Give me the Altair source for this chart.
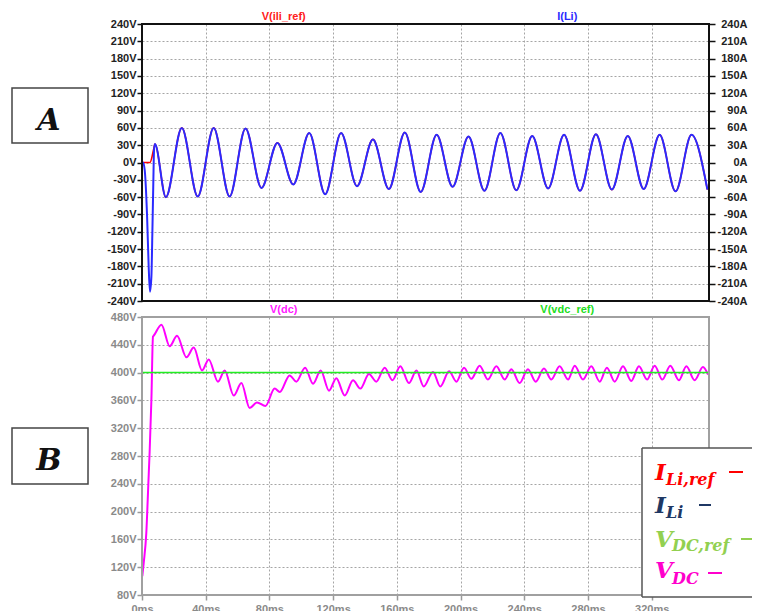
import altair as alt
import pandas as pd

# ---------------- data ----------------
# Panel A : I(Li) [blue] and V(ili_ref) [red], time in ms
ili_t = [0, 0.65, 1.7, 3.2, 4.2, 5.0, 5.9, 6.5, 7.1, 7.55, 8.1,
         15, 25, 35, 45, 55, 65, 75, 85, 95, 105, 115, 125, 135, 145, 155,
         165, 175, 185, 195, 205, 215, 225, 235, 245, 255, 265, 275, 285,
         295, 305, 315, 325, 335, 345, 355]
ili_v = [0, 0, -13, -94, -181, -224, -198, -123, -36, 21, 32,
         -60, 60, -59, 60, -59, 59, -44, 34, -38, 51, -55, 51, -41, 40, -46,
         52, -51, 48, -42, 45, -49, 51, -48, 46, -45, 48, -49, 49,
         -47, 46, -46, 48, -50, 48, -47]

ref_start_t = [0, 5.0, 7.4]
ref_start_v = [0, 0, 24]
ref_t = ref_start_t + ili_t[10:]
ref_v = ref_start_v + ili_v[10:]

# Panel B : V(dc) [magenta] and V(vdc_ref) [green]
vdc_t = [0.2, 1.07, 2.7, 4.0, 4.8, 5.9, 6.9, 7.3, 12.2, 17.4, 22.0, 27.9,
         32.5, 37.7, 41.9, 47.7, 51.9, 57.6, 62.4, 67.6, 72.2, 77.5, 83.3,
         86.5, 92.7, 96.9, 102.4, 107.4, 112.2, 117.4, 122.0, 127.3, 132.5,
         137.1, 142.5, 147.1, 152.4, 157.2, 162.2, 167.6, 172.3, 176.9,
         182.7, 187.3, 192.8, 197.4, 202.2, 206.8, 212.0, 217.2, 222.5,
         227.7, 231.9, 237.1, 242.3, 247.2, 252.4, 257.0, 262.2, 267.5,
         271.7, 276.9, 282.1, 287.4, 291.9, 296.8, 302.0, 307.2, 312.0,
         317.1, 321.9, 326.7, 331.7, 337.1, 341.8, 347.0, 352.2, 355.4]
vdc_v = [107, 126, 169, 241, 286, 361, 452, 453, 469, 438, 453, 422,
         436, 403, 419, 387, 403, 367, 385, 349, 357, 352, 377,
         372, 396, 387, 407, 384, 403, 374, 392, 367, 389,
         377, 398, 387, 407, 389, 409, 385, 403, 380,
         401, 380, 402, 387, 407, 391, 410, 390, 409,
         390, 405, 385, 405, 387, 406, 390, 409, 390,
         410, 390, 409, 387, 407, 387, 409, 388, 409,
         390, 410, 390, 410, 389, 409, 389, 408, 397]

vref_t = [0, 356]
vref_v = [400, 400]

x_ticks = [0, 40, 80, 120, 160, 200, 240, 280, 320]
yA_ticks = [-240, -210, -180, -150, -120, -90, -60, -30, 0,
            30, 60, 90, 120, 150, 180, 210, 240]
yB_ticks = [80, 120, 160, 200, 240, 280, 320, 360, 400, 440, 480]

# ---------------- layout / style ----------------
W = 567
HA = 277
HB = 278
X_MAX = 356
FONT = "Liberation Sans"
SERIF = "DejaVu Serif"

df_ili = pd.DataFrame({"t": ili_t, "v": ili_v})
df_ref = pd.DataFrame({"t": ref_t, "v": ref_v})
df_vdc = pd.DataFrame({"t": vdc_t, "v": vdc_v})
df_vref = pd.DataFrame({"t": vref_t, "v": vref_v})
dummy = pd.DataFrame({"k": [0]})

grid_kw = dict(grid=True, gridColor="#a5a5a5", gridDash=[2, 2], gridWidth=1)
xscale = alt.Scale(domain=[0, X_MAX], nice=False, zero=False)


def label_kw(color):
    return dict(labelColor=color, labelFont=FONT, labelFontSize=11,
                labelFontWeight="bold", labelOverlap=False, labelFlush=False)


def deco_text(txt, x, y, size, color, font=FONT, weight="bold", style="normal",
              align="center", baseline="middle"):
    return alt.Chart(dummy).mark_text(
        text=txt, fontSize=size, color=color, font=font, fontWeight=weight,
        fontStyle=style, align=align, baseline=baseline
    ).encode(x=alt.value(x), y=alt.value(y))


def deco_box(x0, x1, y0, y1, color, width):
    return alt.Chart(dummy).mark_rect(
        fillOpacity=0, stroke=color, strokeWidth=width
    ).encode(x=alt.value(x0), x2=alt.value(x1), y=alt.value(y0), y2=alt.value(y1))


def deco_rule(x0, x1, y0, y1, color, width):
    return alt.Chart(dummy).mark_rule(color=color, strokeWidth=width).encode(
        x=alt.value(x0), x2=alt.value(x1), y=alt.value(y0), y2=alt.value(y1))


# ---------------- Panel A ----------------
xA_axis = alt.Axis(values=x_ticks, labels=False, ticks=False, domain=False,
                   title=None, **grid_kw)
yA_scale = alt.Scale(domain=[-240, 240], nice=False, zero=False)
yA_left = alt.Axis(values=yA_ticks, labelExpr="datum.value + 'V'", orient="left",
                   domain=False, tickColor="#111", tickSize=5, tickWidth=1.5,
                   labelPadding=1, title=None, **label_kw("#222"), **grid_kw)
yA_right = alt.Axis(values=yA_ticks, labelExpr="datum.value + 'A'", orient="right",
                    domain=False, grid=False, tickColor="#111", tickSize=6,
                    tickWidth=1.5, labelAlign="right", labelPadding=32,
                    title=None, **label_kw("#222"))

red = alt.Chart(df_ref).mark_line(color="#ff0000", strokeWidth=1.6, clip=True,
                                  interpolate="monotone").encode(
    x=alt.X("t:Q", scale=xscale, axis=xA_axis),
    y=alt.Y("v:Q", scale=yA_scale, axis=yA_left))
blue = alt.Chart(df_ili).mark_line(color="#2a2aff", strokeWidth=2, clip=True,
                                   interpolate="monotone").encode(
    x=alt.X("t:Q", scale=xscale, axis=xA_axis),
    y=alt.Y("v:Q", scale=yA_scale, axis=yA_right))

panelA = alt.layer(
    red, blue,
    deco_box(0, W, 0, HA, "#111", 2),
    deco_text("V(ili_ref)", W * 0.25, -7, 11, "#ff2020"),
    deco_text("I(Li)", W * 0.75, -7, 11, "#2a2aff"),
    deco_box(-130, -54, 64, 119, "#444", 1.5),
    deco_text("A", -93, 106, 30, "#111", font=SERIF, style="italic",
              baseline="alphabetic"),
    alt.Chart(dummy).mark_rect(opacity=0).encode(
        x=alt.value(-134), x2=alt.value(-133), y=alt.value(-16), y2=alt.value(-15)),
).resolve_scale(y="independent").properties(width=W, height=HA)

# ---------------- Panel B ----------------
xB_axis = alt.Axis(values=x_ticks, labelExpr="datum.value + 'ms'", orient="bottom",
                   domain=False, tickColor="#999", tickSize=5, tickWidth=1.5,
                   labelPadding=3, title=None, **label_kw("#8a8a8a"), **grid_kw)
yB_scale = alt.Scale(domain=[80, 480], nice=False, zero=False)
yB_axis = alt.Axis(values=yB_ticks, labelExpr="datum.value + 'V'", orient="left",
                   domain=False, tickColor="#999", tickSize=5, tickWidth=1.5,
                   labelPadding=1, title=None, **label_kw("#8a8a8a"), **grid_kw)

mag = alt.Chart(df_vdc).mark_line(color="#ff00ff", strokeWidth=2, clip=True,
                                  interpolate="monotone").encode(
    x=alt.X("t:Q", scale=xscale, axis=xB_axis),
    y=alt.Y("v:Q", scale=yB_scale, axis=yB_axis))
grn = alt.Chart(df_vref).mark_line(color="#22ee22", strokeWidth=1.5, clip=True).encode(
    x=alt.X("t:Q", scale=xscale, axis=xB_axis),
    y=alt.Y("v:Q", scale=yB_scale, axis=yB_axis))

leg_red = "#ff0000"
leg_navy = "#1f3864"
leg_green = "#92d050"
leg_mag = "#ff00cc"

panelB = alt.layer(
    mag, grn,
    deco_box(0, W, 0, HB, "#a0a0a0", 2),
    deco_text("V(dc)", W * 0.25, -7.5, 11, "#ff20ff"),
    deco_text("V(vdc_ref)", W * 0.75, -7.5, 11, "#22dd22"),
    deco_box(-130, -54, 111, 167, "#444", 1.5),
    deco_text("B", -93, 153, 30, "#111", font=SERIF, style="italic",
              baseline="alphabetic"),
    # legend frame (right side cut off like the reference)
    alt.Chart(dummy).mark_rect(color="white").encode(
        x=alt.value(500), x2=alt.value(610), y=alt.value(131), y2=alt.value(280)),
    deco_rule(500, 610, 131, 131, "#555", 1.5),
    deco_rule(500, 610, 280, 280, "#555", 1.5),
    deco_rule(500, 500, 131, 280, "#555", 1.5),
    # legend entries
    deco_text("I", 513, 163, 23, leg_red, font=SERIF, style="italic",
              align="left", baseline="alphabetic"),
    deco_text("Li,ref", 524, 168, 16, leg_red, font=SERIF, style="italic",
              align="left", baseline="alphabetic"),
    deco_rule(587, 601, 155, 155, leg_red, 2),
    deco_text("I", 513, 196, 23, leg_navy, font=SERIF, style="italic",
              align="left", baseline="alphabetic"),
    deco_text("Li", 524, 201, 16, leg_navy, font=SERIF, style="italic",
              align="left", baseline="alphabetic"),
    deco_rule(557, 569, 188, 188, leg_navy, 2),
    deco_text("V", 513, 230, 23, leg_green, font=SERIF, style="italic",
              align="left", baseline="alphabetic"),
    deco_text("DC,ref", 530, 234, 16, leg_green, font=SERIF, style="italic",
              align="left", baseline="alphabetic"),
    deco_rule(599, 610, 222, 222, leg_green, 2),
    deco_text("V", 513, 261, 23, leg_mag, font=SERIF, style="italic",
              align="left", baseline="alphabetic"),
    deco_text("DC", 530, 267, 16, leg_mag, font=SERIF, style="italic",
              align="left", baseline="alphabetic"),
    deco_rule(566, 580, 256, 256, leg_mag, 2),
).properties(width=W, height=HB)

chart = alt.vconcat(panelA, panelB, spacing=16, bounds="flush").properties(
    padding=0
).configure_view(strokeWidth=0)

chart.save("out.html", embed_options={"renderer": "svg", "actions": False})
